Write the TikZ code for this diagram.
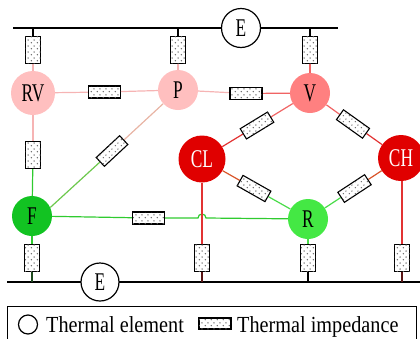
\documentclass[tikz,border=0pt]{standalone}
\usepackage{fontspec}
\setmainfont{Liberation Serif}
\newfontfamily\serifA{Liberation Serif}
\usetikzlibrary{patterns}
\pgfdeclarepatternformonly{sparsedots}{\pgfqpoint{0pt}{0pt}}{\pgfqpoint{6pt}{6pt}}{\pgfqpoint{6pt}{6pt}}{%
  \pgfpathcircle{\pgfqpoint{1.5pt}{1.5pt}}{0.85pt}%
  \pgfpathcircle{\pgfqpoint{4.5pt}{4.5pt}}{0.85pt}%
  \pgfusepath{fill}}
\pgfdeclarelayer{bg}
\pgfsetlayers{bg,main}
\definecolor{pinkA}{HTML}{FFBFBF}
\definecolor{pinkL}{HTML}{F6B4B4}
\definecolor{salmonA}{HTML}{FF8080}
\definecolor{salmonL}{HTML}{F06464}
\definecolor{redA}{HTML}{E00000}
\definecolor{redL}{HTML}{E23232}
\definecolor{orangeL}{HTML}{D9552A}
\definecolor{greenA}{HTML}{12C322}
\definecolor{greenL}{HTML}{2FCB2F}
\definecolor{greenB}{HTML}{44E844}
\definecolor{greenBL}{HTML}{4ADC4A}
\definecolor{tanL}{HTML}{E8B4A4}
\definecolor{lgreenL}{HTML}{6CC84C}
\definecolor{dkgreen}{HTML}{1E4A1E}
\definecolor{dkred}{HTML}{5A1414}
\newcommand\mylbl[1]{\scalebox{0.68}[1]{#1}}
\newcommand\mylegtxt[1]{\scalebox{0.88}[1]{#1}}
\begin{document}
\begin{tikzpicture}[x=1pt,y=-1pt,
  elem/.style={circle, minimum size=#1, inner sep=0pt, font=\serifA\fontsize{25.5}{25.5}\selectfont},
  eelem/.style={elem=#1, draw=black, line width=1.2pt, fill=white},
  res/.style={draw=black, line width=1.1pt, fill=white,
     postaction={pattern=sparsedots, pattern color=black!60},
     minimum width=32pt, minimum height=12pt, inner sep=0pt},
  vres/.style={res, minimum width=15pt, minimum height=27pt},
  wire/.style={line width=1.2pt},
  bus/.style={line width=1.5pt, black},
  legtext/.style={anchor=base west, inner sep=0pt, font=\serifA\fontsize{23}{23}\selectfont}]
\useasboundingbox (0,0) rectangle (420,338);

% thermal elements
\node[elem=44pt, fill=pinkA] (RV) at (33,93) {\mylbl{RV}};
\node[elem=40pt, fill=pinkA] (P) at (178,90) {\mylbl{P}};
\node[elem=40pt, fill=salmonA] (V) at (310,93) {\mylbl{V}};
\node[elem=47pt, fill=redA, text=white] (CL) at (202,159) {\mylbl{CL}};
\node[elem=46pt, fill=redA, text=white] (CH) at (401,158) {\mylbl{CH}};
\node[elem=40pt, fill=greenA] (F) at (32,216) {\mylbl{F}};
\node[elem=40pt, fill=greenB] (R) at (308,219) {\mylbl{R}};
\node[eelem=39pt] (Etop) at (241,28) {\mylbl{E}};
\node[eelem=38pt] (Ebot) at (100,282) {\mylbl{E}};

% bus coordinates
\coordinate (tl) at (13,28);
\coordinate (tr) at (338,28);
\coordinate (bl) at (7,282);
\coordinate (br) at (421,282);

% thermal impedances
\node[vres] (rRVt) at (33,50) {};
\node[vres] (rPt) at (178,50) {};
\node[vres] (rVt) at (310,50) {};
\node[res] (rRVP) at (104.5,92) {};
\node[res] (rPV) at (246,93.5) {};
\node[vres] (rRVF) at (33,155) {};
\node[res, rotate=43] (rFP) at (112,151) {};
\node[res, rotate=31.4] (rVCL) at (257,125.5) {};
\node[res, rotate=-35.5] (rVCH) at (353,124) {};
\node[res, rotate=-29.5] (rCLR) at (254,188.5) {};
\node[res, rotate=33.3] (rCHR) at (354.5,188.5) {};
\node[res] (rFR) at (148.5,218) {};
\node[vres] (rFb) at (32,258) {};
\node[vres] (rCLb) at (202,258) {};
\node[vres] (rRb) at (308,258) {};
\node[vres] (rCHb) at (402,258) {};

\coordinate (hopA) at (198,218);

\begin{pgfonlayer}{bg}
  \draw[bus] (tl) -- (tr);
  \draw[bus] (bl) -- (br);
  % top
  \draw[wire, black] (rRVt.north) -- (rRVt.north |- tl);
  \draw[wire, black] (rPt.north) -- (rPt.north |- tl);
  \draw[wire, black] (rVt.north) -- (rVt.north |- tl);
  \draw[wire, pinkL] (rRVt) -- (RV);
  \draw[wire, pinkL] (rPt) -- (P);
  \draw[wire, salmonL] (rVt) -- (V);
  % horizontal links
  \draw[wire, pinkL] (RV) -- (rRVP) -- (P);
  \draw[wire, pinkL] (P) -- (rPV);
  \draw[wire, salmonL] (rPV) -- (V);
  % RV - F
  \draw[wire, pinkL] (RV) -- (rRVF);
  \draw[wire, greenL] (rRVF) -- (F);
  % F - P
  \draw[wire, lgreenL] (F.25) -- (rFP);
  \draw[wire, tanL] (rFP) -- (P);
  % V - CL, V - CH
  \draw[wire, salmonL] (V) -- (rVCL);
  \draw[wire, redL] (rVCL) -- (CL);
  \draw[wire, salmonL] (V) -- (rVCH);
  \draw[wire, redL] (rVCH) -- (CH);
  % CL - R, CH - R
  \draw[wire, orangeL] (CL) -- (rCLR);
  \draw[wire, greenBL] (rCLR) -- (R);
  \draw[wire, orangeL] (CH) -- (rCHR);
  \draw[wire, greenBL] (rCHR) -- (R);
  % F - R with hop
  \draw[wire, greenL] (F) -- (rFR);
  \draw[wire, greenL] (rFR) -- (hopA) arc[start angle=180, end angle=360, radius=4] -- (R);
  % bottom
  \draw[wire, greenL] (F) -- (rFb);
  \draw[wire, dkgreen] (rFb) -- (rFb |- bl);
  \draw[wire, redL] (CL) -- (rCLb);
  \draw[wire, dkred] (rCLb) -- (rCLb |- bl);
  \draw[wire, greenBL] (R) -- (rRb);
  \draw[wire, black] (rRb) -- (rRb |- bl);
  \draw[wire, redL] (CH.south -| rCHb) -- (rCHb);
  \draw[wire, dkred] (rCHb) -- (rCHb |- bl);
\end{pgfonlayer}

% legend
\node[draw=black, line width=1.1pt, minimum width=409pt, minimum height=70pt, inner sep=0pt, anchor=north west] (leg) at (7,306) {};
\node[circle, draw=black, line width=1.2pt, minimum size=19pt, inner sep=0pt] (legE) at (28,324.5) {};
\node[legtext] (legEt) at (46,332.5) {\mylegtxt{Thermal element}};
\node[res, minimum width=32pt, minimum height=11pt] (legR) at (215,323.5) {};
\node[legtext] (legRt) at (237,332.5) {\mylegtxt{Thermal impedance}};
\end{tikzpicture}
\end{document}
